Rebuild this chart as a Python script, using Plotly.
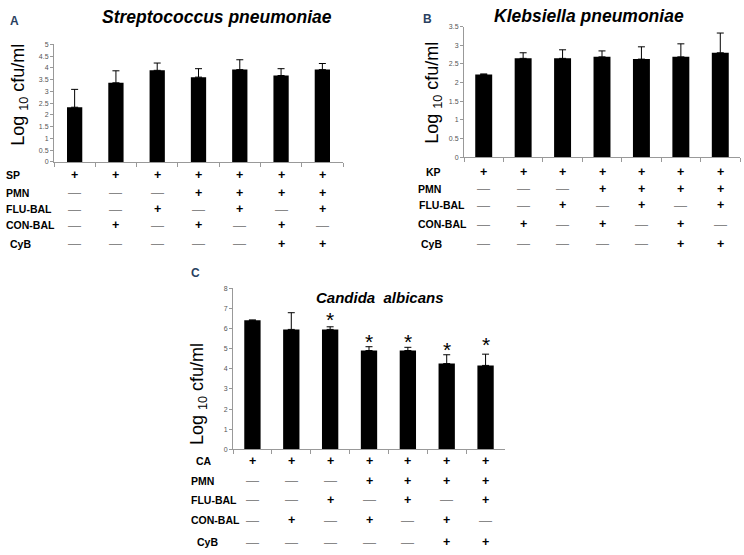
import plotly.graph_objects as go

# groups (7 treatment combinations)
groups = ["g1", "g2", "g3", "g4", "g5", "g6", "g7"]

# Streptococcus pneumoniae
sp_mean = [2.33, 3.37, 3.90, 3.61, 3.93, 3.68, 3.93]
sp_top = [3.09, 3.88, 4.21, 3.97, 4.35, 3.97, 4.19]
sp_ticks = [0, 0.5, 1, 1.5, 2, 2.5, 3, 3.5, 4, 4.5, 5]

# Klebsiella pneumoniae
kp_mean = [2.22, 2.65, 2.65, 2.69, 2.63, 2.69, 2.80]
kp_top = [2.23, 2.80, 2.88, 2.85, 2.96, 3.04, 3.33]
kp_ticks = [0, 0.5, 1, 1.5, 2, 2.5, 3, 3.5]

# Candida albicans
ca_mean = [6.41, 5.96, 5.96, 4.91, 4.91, 4.26, 4.17]
ca_top = [6.43, 6.79, 6.09, 5.10, 5.07, 4.70, 4.73]
ca_star = [0, 0, 1, 1, 1, 1, 1]
ca_ticks = [0, 1, 2, 3, 4, 5, 6, 7, 8]

# treatment table (1 = +, 0 = —)
pmn = [0, 0, 0, 1, 1, 1, 1]
flu_bal = [0, 0, 1, 0, 1, 0, 1]
con_bal = [0, 1, 0, 1, 0, 1, 0]
cyb = [0, 0, 0, 0, 0, 1, 1]
bug = [1, 1, 1, 1, 1, 1, 1]

W, H = 744, 555


def px(x):
    return x / W


def py(y):
    return 1 - y / H


fig = go.Figure()

panels = [
    # mean, top, ticks, xaxis, yaxis, xdom(px), ydom(px), ymax, barwidth
    (sp_mean, sp_top, sp_ticks, "x", "y", (54, 343), (160, 41), 5, 0.37),
    (kp_mean, kp_top, kp_ticks, "x2", "y2", (464, 740), (155, 23), 3.5, 0.43),
    (ca_mean, ca_top, ca_ticks, "x3", "y3", (233, 505), (451, 288), 8, 0.42),
]

for mean, top, ticks, xa, ya, xd, yd, ymax, bw in panels:
    fig.add_trace(go.Bar(
        x=groups, y=mean, xaxis=xa, yaxis=ya, width=bw,
        marker=dict(color="black", line=dict(width=0)),
        error_y=dict(type="data", symmetric=False,
                     array=[t - m for t, m in zip(top, mean)],
                     arrayminus=[0] * len(mean),
                     color="black", thickness=1, width=3.5),
        showlegend=False, hoverinfo="skip",
    ))
    sx = "" if xa == "x" else xa[1:]
    fig.layout["xaxis" + sx] = dict(
        domain=[px(xd[0]), px(xd[1])], anchor=ya,
        showticklabels=False, ticks="outside", tickson="boundaries",
        ticklen=4, tickcolor="#999", showline=True, linecolor="#999",
        linewidth=1, showgrid=False, fixedrange=True,
    )
    fig.layout["yaxis" + sx] = dict(
        domain=[py(yd[0]), py(yd[1])], anchor=xa, range=[0, ymax],
        tickvals=ticks, ticktext=[str(t) for t in ticks],
        tickfont=dict(size=7, color="#555", family="Arial"),
        ticks="outside", ticklen=3, tickcolor="#999",
        showline=True, linecolor="#999", linewidth=1,
        showgrid=False, zeroline=False, fixedrange=True,
    )

ann = []

# asterisks on Candida bars
star_y = [6.45, 5.38, 5.38, 4.94, 5.19]
si = 0
for g, s in zip(groups, ca_star):
    if s:
        ann.append(dict(x=g, y=star_y[si], xref="x3", yref="y3", text="*",
                        font=dict(size=21, color="black", family="Arial")))
        si += 1

# titles and panel letters
title_font = dict(family="Arial", size=17.5, color="black")
ann += [
    dict(x=px(217), y=py(13), text="<b><i>Streptococcus pneumoniae</i></b>",
         font=title_font),
    dict(x=px(589), y=py(12), text="<b><i>Klebsiella pneumoniae</i></b>",
         font=title_font),
    dict(x=px(380), y=py(297), text="<b><i>Candida  albicans</i></b>",
         font=dict(family="Arial", size=15, color="black")),
    dict(x=px(14), y=py(17), text="<b>A</b>", font=dict(size=12, family="Arial")),
    dict(x=px(427), y=py(15), text="<b>B</b>", font=dict(size=12, family="Arial")),
    dict(x=px(195), y=py(272), text="<b>C</b>", font=dict(size=12, family="Arial")),
]

# y axis labels
for xx, yy in [(20, 92), (434, 90), (198, 395)]:
    ann.append(dict(x=px(xx), y=py(yy), text="Log <sub>10</sub> cfu/ml",
                    textangle=-90,
                    font=dict(size=18, family="Arial", color="black")))

# treatment tables
tables = [
    ("x", "SP", [173, 191, 208, 224, 243], [4, 4, 4, 4, 8]),
    ("x2", "KP", [170, 187, 204, 223, 243], [424, 416, 417, 416, 419]),
    ("x3", "CA", [463, 483, 502, 523, 545], [194, 189, 189, 189, 195]),
]
for xa, first, rows_y, rows_x in tables:
    labels = [first, "PMN", "FLU-BAL", "CON-BAL", "CyB"]
    values = [bug, pmn, flu_bal, con_bal, cyb]
    for lab, vals, ry, rx in zip(labels, values, rows_y, rows_x):
        ann.append(dict(x=px(rx), y=py(ry), xanchor="left",
                        text="<b>%s</b>" % lab,
                        font=dict(size=10.5, family="Arial", color="black")))
        for g, v in zip(groups, vals):
            if v:
                ann.append(dict(x=g, y=py(ry), xref=xa, text="<b>+</b>",
                                font=dict(size=12.5, family="Arial", color="black")))
            else:
                ann.append(dict(x=g, y=py(ry), xref=xa, text="—",
                                font=dict(size=13, family="Arial", color="#888")))

for a in ann:
    a.setdefault("xref", "paper")
    a.setdefault("yref", "paper")
    a.setdefault("xanchor", "center")
    a.setdefault("yanchor", "middle")
    a.setdefault("showarrow", False)

fig.update_layout(
    width=W, height=H, margin=dict(l=0, r=0, t=0, b=0),
    paper_bgcolor="white", plot_bgcolor="white",
    annotations=ann, showlegend=False,
)

# page body margin off so the figure sits at the window's corner
fig.write_html("out.html", config={"displayModeBar": False},
               post_script="document.body.style.margin='0';")
